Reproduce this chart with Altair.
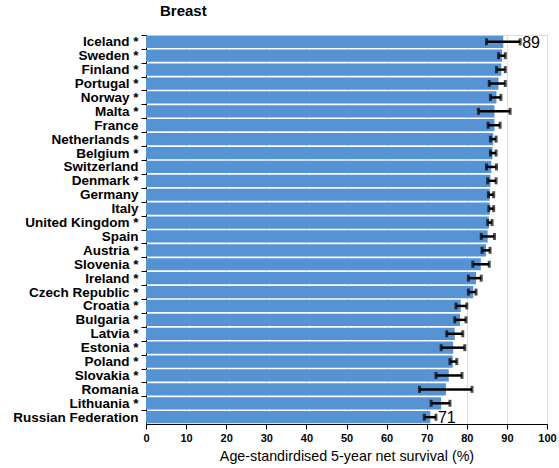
import altair as alt
import pandas as pd

# Age-standardised 5-year net survival, breast cancer, by country
countries = [
    "Iceland *", "Sweden *", "Finland *", "Portugal *", "Norway *", "Malta *",
    "France", "Netherlands *", "Belgium *", "Switzerland", "Denmark *", "Germany",
    "Italy", "United Kingdom *", "Spain", "Austria *", "Slovenia *", "Ireland *",
    "Czech Republic *", "Croatia *", "Bulgaria *", "Latvia *", "Estonia *",
    "Poland *", "Slovakia *", "Romania", "Lithuania *", "Russian Federation",
]
survival = [
    89.1, 88.8, 88.6, 87.9, 87.4, 86.9,
    86.9, 86.6, 86.4, 86.1, 85.9, 85.7,
    85.7, 85.5, 85.2, 84.8, 83.5, 82.3,
    81.6, 78.5, 78.3, 77.0, 76.6,
    76.5, 75.5, 74.8, 73.6, 70.9,
]
ci_low = [
    84.9, 87.9, 87.4, 85.6, 85.9, 82.9,
    85.3, 85.9, 85.9, 84.9, 85.2, 85.4,
    85.5, 85.2, 83.6, 83.8, 81.5, 80.4,
    80.4, 77.3, 77.0, 75.0, 73.6,
    75.8, 72.3, 68.2, 71.1, 69.4,
]
ci_high = [
    93.3, 89.6, 89.6, 89.6, 88.5, 90.8,
    88.3, 87.3, 87.3, 87.4, 87.3, 86.7,
    86.7, 86.3, 86.9, 85.8, 85.6, 83.6,
    82.3, 80.0, 79.8, 79.0, 79.5,
    77.5, 78.8, 81.3, 75.8, 72.3,
]
# value labels are shown for the highest and lowest country only
labelled = ["Iceland *", "Russian Federation"]

df = pd.DataFrame({
    "country": countries,
    "survival": survival,
    "low": ci_low,
    "high": ci_high,
})
df["label"] = [f"{v:.0f}" if c in labelled else "" for c, v in zip(countries, survival)]

FONT = "Liberation Sans"
W, H = 401, 389
N = len(countries)
P_IN, P_OUT = 0.12, 0.05
step = H / (N - P_IN + 2 * P_OUT)

y_enc = alt.Y(
    "country:N",
    sort=None,
    title=None,
    scale=alt.Scale(paddingInner=P_IN, paddingOuter=P_OUT),
    axis=alt.Axis(
        labelFont=FONT, labelFontSize=13.5, labelFontWeight="bold",
        labelColor="black", labelPadding=3,
        tickColor="black", tickSize=5, tickOffset=-step / 2,
        labelOffset=step / 2,
        domainColor="black", domainWidth=1, grid=False,
    ),
)

x_scale = alt.Scale(domain=[0, 100], nice=False)

bars = alt.Chart(df).mark_bar(color="#5593D4").encode(
    x=alt.X(
        "survival:Q",
        scale=x_scale,
        title="Age-standirdised 5-year net survival (%)",
        axis=alt.Axis(
            values=list(range(0, 101, 10)),
            labelFont=FONT, labelFontSize=11, labelFontWeight="bold",
            labelColor="black", labelPadding=3, labelFlush=False,
            tickColor="black", tickSize=5,
            domainColor="black",
            grid=True, gridColor="#DDDDDD", gridWidth=1,
            titleFont=FONT, titleFontSize=14.3, titleFontWeight="normal",
            titleColor="black", titlePadding=6,
        ),
    ),
    y=y_enc,
)

err = alt.Chart(df).mark_rule(color="black", strokeWidth=2.5).encode(
    x=alt.X("low:Q", scale=x_scale),
    x2="high:Q",
    y=alt.Y("country:N", sort=None),
)

caps_low = alt.Chart(df).mark_tick(color="black", thickness=3, size=7).encode(
    x=alt.X("low:Q", scale=x_scale),
    y=alt.Y("country:N", sort=None),
)
caps_high = alt.Chart(df).mark_tick(color="black", thickness=3, size=7).encode(
    x=alt.X("high:Q", scale=x_scale),
    y=alt.Y("country:N", sort=None),
)

labels = alt.Chart(df).mark_text(
    align="left", baseline="middle", dx=2, dy=1,
    font=FONT, fontSize=16, color="black",
).encode(
    x=alt.X("high:Q", scale=x_scale),
    y=alt.Y("country:N", sort=None),
    text="label:N",
)

chart = alt.layer(bars, err, caps_low, caps_high, labels).properties(
    width=W,
    height=H,
    title=alt.TitleParams(
        "Breast", anchor="start", frame="group", dx=14, offset=16,
        font=FONT, fontSize=15, fontWeight="bold", color="black",
    ),
    autosize=alt.AutoSizeParams(type="none"),
    padding={"left": 146, "top": 35, "right": 12, "bottom": 44},
).configure_view(stroke=None).configure(background="white")

chart.save("out.html", embed_options={"renderer": "svg", "actions": False})
